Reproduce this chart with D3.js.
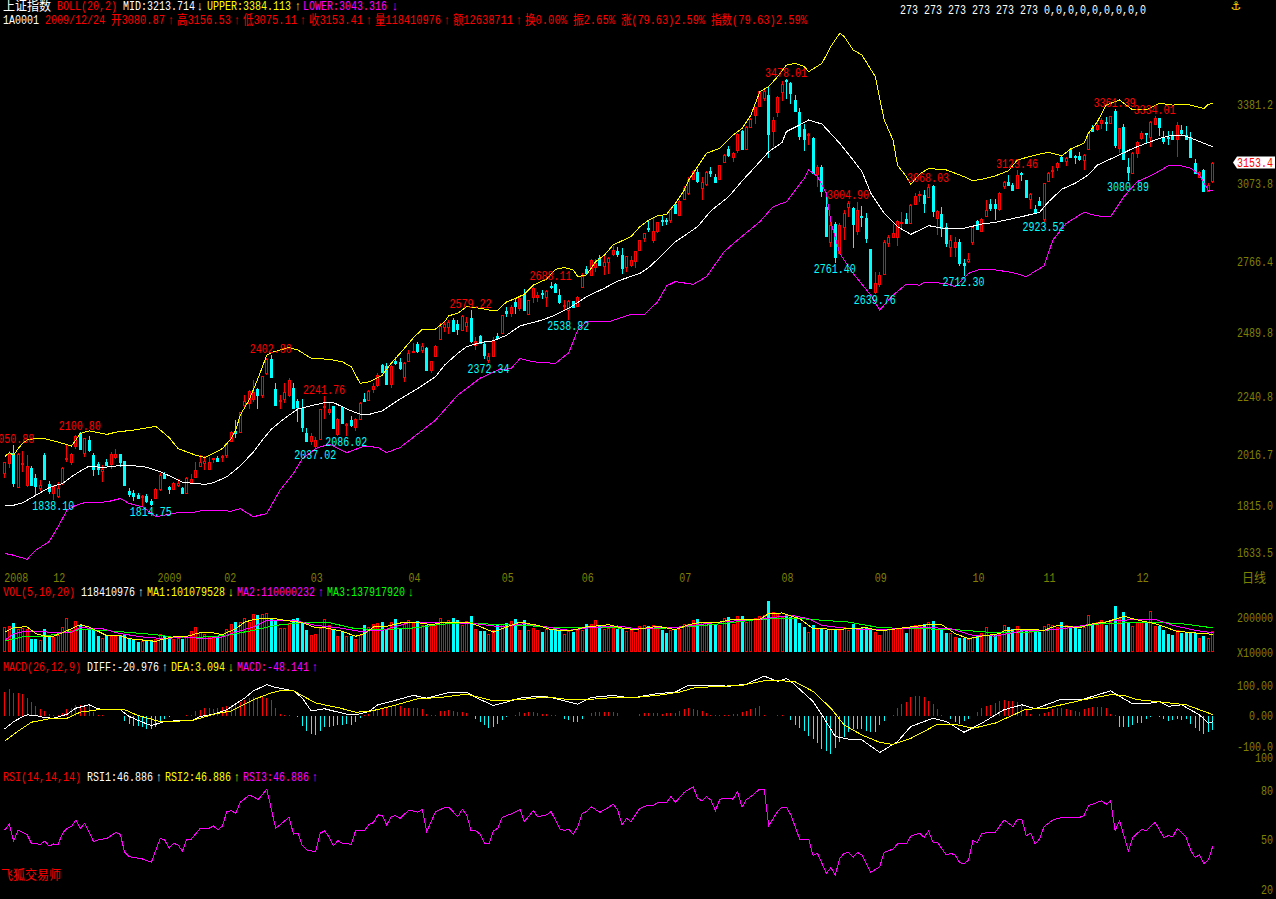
<!DOCTYPE html>
<html><head><meta charset="utf-8">
<script src="https://cdn.jsdelivr.net/npm/d3@7"></script>
<style>html,body{margin:0;background:#000;overflow:hidden}svg{display:block}</style>
</head><body><svg id="c" width="1276" height="899"></svg>
<script>
const opens=[1944,1983,2019,1889,1977,1894,1962,1923,1886,2012,1899,1866,1853,1902,1997,1986,2048,2097,2022,2071,2012,1977,1949,1984,1977,2006,2015,1988,1872,1866,1856,1850,1854,1833,1847,1881,1938,1889,1879,1895,1883,1863,1907,1928,1970,1980,1960,1996,2003,2007,2012,2067,2106,2104,2207,2214,2231,2269,2246,2331,2386,2269,2224,2230,2246,2275,2223,2197,2100,2068,2048,2075,2202,2179,2202,2093,2200,2131,2149,2123,2155,2230,2227,2269,2286,2365,2360,2288,2380,2377,
2315,2379,2417,2445,2422,2431,2344,2399,2464,2513,2513,2539,2523,2500,2517,2545,2441,2477,2445,2383,2400,2477,2487,2575,2565,2609,2587,2640,2561,2630,2630,2643,2630,2673,2679,2635,2595,2578,2613,2594,2669,2738,2715,2744,2779,2750,2765,2796,2808,2792,2744,2753,2770,2812,2859,2899,2851,2886,2929,2929,2929,2991,2949,
3011,3033,3088,3117,3055,3068,3121,3098,3088,3156,3207,3176,3202,3274,3207,3293,3339,3374,3404,3417,3277,3351,3427,3475,3465,3397,3350,3285,3263,3250,3108,3137,2981,2844,2913,2799,2903,2978,2977,2887,2945,2938,2815,2647,2679,2718,2841,2861,2864,2920,2933,2916,2990,3028,3027,3017,3063,2938,2952,2900,2825,2822,2845,2760,2770,2842,2925,
2887,2945,2991,2991,2972,3062,3076,3064,3055,3114,3084,3011,2972,3004,2932,3080,3119,3134,3175,3159,3205,3179,3179,3163,3205,3289,3283,3306,3311,3306,3352,3209,3290,3134,3114,3189,3247,3267,3251,3302,3325,3254,3254,3258,3245,3280,3260,3251,3150,3098,3124,3042,3081];
const closes=[1984,2015,1902,2015,1983,1970,1894,1892,1895,1919,1873,1893,1886,1964,2003,2016,2088,2036,2078,2031,1957,1958,1958,1973,2015,2016,1985,1895,1859,1853,1847,1854,1832,1823,1879,1934,1923,1880,1902,1902,1866,1925,1918,1954,1985,1990,1984,2002,1990,2010,2058,2104,2097,2179,2223,2262,2260,2246,2319,2386,2318,2207,2227,2260,2305,2198,2201,2123,2067,2088,2071,2193,2204,2192,2119,2155,2139,2133,2129,2152,2214,2223,2263,2282,2325,2337,2289,2360,2373,2351,
2371,2409,2419,2419,2438,2344,2378,2439,2516,2523,2532,2497,2503,2555,2532,2458,2458,2448,2402,2399,2458,2470,2557,2565,2591,2594,2623,2579,2616,2662,2635,2639,2652,2669,2650,2609,2597,2614,2588,2630,2712,2721,2774,2763,2753,2766,2782,2812,2796,2740,2787,2773,2808,2850,2877,2895,2887,2920,2926,2926,2971,2955,3004,
3055,3085,3121,3082,3076,3117,3111,3076,3142,3184,3181,3189,3264,3207,3292,3324,3368,3431,3433,3264,3319,3409,3459,3469,3426,3355,3257,3245,3266,3114,3136,3043,2868,2909,2786,2911,2958,2997,2913,2968,2942,2860,2662,2682,2714,2845,2861,2877,2926,2922,2916,2988,3024,3030,2997,3056,2965,2965,2897,2841,2851,2845,2760,2754,2778,2903,2893,
2933,2968,2975,2975,3036,3079,3066,3046,3105,3110,3020,3029,2955,2987,3072,3111,3124,3150,3159,3170,3175,3173,3167,3184,3270,3274,3300,3319,3309,3333,3222,3287,3166,3115,3192,3232,3270,3264,3312,3325,3290,3237,3247,3244,3300,3270,3245,3173,3111,3117,3042,3066,3153];
const highs=[1986,2029,2051,2019,2028,2012,1971,1937,1915,2019,1912,1894,1906,1966,2051,2019,2090,2101,2080,2085,2019,1986,1973,1999,2025,2036,2016,1989,1883,1876,1866,1856,1859,1843,1883,1941,1948,1893,1908,1921,1889,1928,1937,1986,2012,2009,2006,2003,2010,2014,2061,2106,2149,2181,2246,2266,2305,2275,2321,2390,2403,2292,2246,2292,2312,2292,2230,2233,2119,2100,2084,2194,2242,2214,2204,2158,2201,2136,2165,2158,2220,2253,2266,2292,2331,2367,2370,2363,2396,2390,
2377,2422,2448,2452,2448,2435,2379,2441,2526,2532,2539,2545,2539,2558,2552,2579,2474,2480,2455,2409,2474,2487,2558,2588,2597,2623,2630,2659,2617,2666,2650,2656,2656,2688,2682,2659,2617,2617,2614,2633,2724,2750,2776,2776,2792,2792,2783,2828,2825,2818,2789,2789,2809,2851,2880,2929,2936,2923,2949,2938,2975,2994,3007,
3062,3098,3124,3128,3098,3121,3137,3108,3143,3185,3218,3193,3267,3280,3296,3326,3371,3432,3436,3452,3332,3413,3471,3478,3466,3417,3365,3303,3270,3251,3143,3143,3017,2922,2922,2916,2968,3004,2981,3000,2985,2955,2816,2728,2728,2851,2871,2913,2929,2961,2958,2990,3033,3043,3046,3068,3065,2968,2981,2916,2871,2864,2854,2776,2799,2906,2929,
2936,3007,3010,3010,3037,3081,3105,3075,3123,3117,3085,3033,2987,3020,3075,3117,3140,3157,3179,3173,3208,3183,3196,3186,3271,3300,3313,3328,3329,3336,3361,3289,3303,3170,3196,3237,3276,3270,3315,3334,3328,3274,3274,3274,3312,3300,3297,3271,3167,3121,3128,3072,3157];
const lows=[1924,1963,1889,1885,1948,1889,1892,1856,1872,1918,1860,1838,1845,1895,1984,1973,2038,2035,2006,2025,1931,1936,1908,1970,1960,1997,1967,1894,1849,1834,1840,1811,1824,1815,1842,1872,1919,1860,1876,1889,1860,1860,1899,1925,1967,1954,1957,1983,1986,1986,2003,2064,2081,2101,2194,2194,2218,2192,2236,2324,2317,2204,2191,2214,2240,2193,2143,2104,2064,2051,2037,2074,2155,2169,2113,2086,2136,2087,2123,2107,2152,2219,2222,2253,2279,2331,2288,2275,2363,2344,
2298,2377,2415,2409,2409,2343,2331,2393,2461,2493,2484,2496,2480,2496,2493,2448,2422,2445,2389,2372,2396,2461,2484,2552,2552,2562,2575,2578,2558,2607,2611,2621,2588,2660,2648,2601,2578,2539,2585,2591,2668,2715,2713,2727,2750,2715,2718,2789,2786,2718,2725,2747,2740,2809,2843,2882,2838,2880,2906,2908,2916,2952,2947,
3007,3026,3085,3072,3007,3062,3098,3072,3085,3155,3176,3155,3192,3205,3205,3289,3303,3371,3391,3169,3212,3329,3394,3401,3381,3354,3241,3199,3221,3108,3059,3020,2867,2825,2761,2796,2851,2942,2821,2870,2903,2841,2661,2640,2669,2714,2825,2858,2828,2897,2913,2913,2988,3000,2958,3015,2939,2871,2864,2825,2783,2786,2751,2712,2760,2832,2890,
2886,2942,2965,2929,2965,3050,3063,3043,3052,3081,3019,2971,2952,2985,2923,3079,3092,3121,3157,3140,3173,3147,3160,3124,3202,3272,3274,3283,3277,3303,3209,3189,3163,3081,3111,3172,3241,3228,3215,3300,3257,3225,3221,3242,3176,3260,3244,3172,3108,3092,3040,3040,3075];
const volume=[143,147,166,133,137,131,76,72,67,133,86,86,99,143,192,128,175,152,133,124,124,90,82,99,91,91,95,101,80,72,59,63,70,61,76,105,91,76,76,80,76,91,118,143,114,105,91,91,90,95,133,158,170,171,196,171,215,210,215,223,194,175,139,137,166,190,194,171,128,95,105,139,190,152,133,91,114,91,91,76,95,152,143,158,168,171,133,171,190,139,162,185,171,177,152,152,152,152,196,171,185,194,181,156,177,204,133,118,118,101,124,152,162,166,177,187,128,185,128,139,128,112,133,128,139,128,105,118,114,124,128,162,162,181,152,133,139,139,133,133,118,124,114,
147,156,149,152,143,124,110,128,128,133,162,162,185,187,171,171,152,162,152,196,198,162,204,204,171,181,196,204,210,290,229,223,200,210,200,187,166,143,114,152,133,133,128,133,130,128,143,128,158,139,137,143,128,114,95,128,133,133,133,137,110,139,152,152,158,171,177,133,133,110,110,86,80,80,76,86,95,110,143,95,95,105,152,143,133,147,128,133,114,114,114,147,158,152,143,171,152,143,147,133,143,210,152,171,181,152,171,261,196,227,171,147,171,171,166,232,147,147,124,101,95,128,109,109,109,109,78,90,82,118];
const macdHist=[77,86,75,75,72,58,44,31,22,14,5,3,3,9,20,25,36,36,34,31,12,3,2,0,-2,-2,-1,-18,-27,-33,-35,-38,-43,-43,-38,-24,-13,-6,-2,-1,0,1,2,14,18,24,24,22,24,28,32,34,38,44,50,56,60,60,62,56,50,24,5,2,1,0,-5,-35,-50,-62,-65,-50,-38,-38,-35,-30,-30,-28,-30,-22,-8,2,5,14,22,24,28,32,34,30,25,24,24,24,22,4,2,3,14,16,18,16,12,12,8,-2,-12,-22,-32,-40,-38,-28,-15,-5,-1,3,10,8,10,10,7,6,6,3,2,-3,-12,-15,-22,-20,-10,0,8,10,10,12,12,10,8,0,0,-3,-2,
6,7,7,9,9,6,8,7,8,14,22,24,22,18,14,8,2,2,2,3,2,6,6,10,14,20,24,30,3,-1,0,1,1,0,-15,-30,-42,-52,-68,-78,-90,-110,-118,-125,-105,-88,-72,-55,-45,-45,-45,-52,-55,-55,-30,-18,0,2,25,38,45,60,63,63,60,48,38,20,3,-1,-12,-22,-28,-18,-12,0,10,25,30,33,40,48,52,48,48,45,30,20,6,0,5,8,12,22,26,26,22,18,14,12,20,26,28,28,28,26,6,2,-38,-38,-38,-32,-24,-24,-12,-4,-2,-4,-10,-18,-14,-13,-15,-12,-28,-42,-52,-60,-54,-48];

const upperBars=[1,2,3,4,5,6,8,10,12,14,16,17,18,20,22,24,26,30,32,35,36,38,40,42,44,46,48,50,52,53,54,56,58,60,61,65,67,70,74,77,79,81,83,86,88,90,93,95,98,100,101,103,105,107,110,112,114,116,118,120,123,125,127,129,130,132,134,136,138,142,144,146,148,150,152,154,155,157,159,162,165,167,169,171,173,175,177,179,181,182,185,187,189,190,192,194,197,199,201,202,204,205,207,209,213,217,219,221,224,227,229,233,236,239,241,244,245,247,249,252,255,258,261,264,267,271,272,273];
const upperVals=[2006,2022,2012,2038,2058,2071,2077,2076,2068,2058,2048,2071,2097,2107,2100,2093,2102,2110,2116,2124,2110,2081,2038,2025,2012,2003,2019,2038,2077,2110,2168,2227,2311,2402,2412,2432,2422,2390,2386,2376,2357,2292,2298,2324,2370,2409,2470,2503,2504,2532,2556,2565,2591,2588,2578,2578,2610,2623,2640,2675,2699,2737,2744,2734,2708,2715,2766,2792,2832,2864,2903,2929,2945,2951,2994,3046,3085,3137,3189,3209,3260,3286,3338,3429,3449,3488,3533,3540,3527,3507,3540,3605,3657,3644,3592,3572,3488,3319,3241,3143,3098,3068,3108,3130,3124,3098,3082,3088,3101,3121,3163,3182,3193,3179,3206,3228,3267,3312,3377,3397,3358,3358,3384,3377,3381,3364,3380,3384];
const midBars=[1,3,5,8,11,14,16,18,20,23,26,30,33,36,39,41,44,46,48,51,54,57,59,61,64,67,70,73,75,79,81,83,86,90,94,98,100,103,105,108,111,114,117,122,125,128,132,136,139,144,146,149,152,157,160,164,167,170,173,176,177,180,182,185,189,192,194,196,199,202,205,207,209,213,217,221,224,230,234,236,239,242,245,247,252,255,258,261,264,267,270,273];
const midVals=[1817,1817,1826,1856,1886,1902,1928,1950,1970,1964,1970,1971,1965,1948,1924,1906,1902,1898,1905,1928,1970,2025,2071,2113,2156,2192,2205,2217,2217,2185,2172,2171,2185,2231,2272,2318,2363,2409,2435,2451,2458,2480,2516,2539,2559,2585,2630,2663,2691,2721,2744,2792,2844,2903,2965,3020,3081,3137,3195,3231,3274,3300,3319,3303,3228,3163,3118,3033,2955,2903,2873,2890,2907,2894,2897,2913,2920,2942,2959,3000,3049,3072,3105,3143,3183,3208,3228,3247,3260,3256,3235,3214];
const lowerBars=[1,3,6,8,11,13,15,17,19,24,27,29,32,35,38,40,43,46,52,54,56,57,60,63,66,68,71,74,78,82,85,87,90,98,103,108,112,115,117,120,125,128,130,132,137,142,145,148,150,152,156,159,163,166,171,174,177,181,182,184,186,187,189,192,196,198,201,204,207,208,213,215,218,220,223,228,231,235,237,240,244,247,250,253,256,259,263,266,268,270,272,273];
const lowerVals=[1629,1622,1606,1642,1675,1733,1798,1817,1827,1830,1843,1824,1811,1772,1782,1788,1788,1798,1794,1804,1782,1772,1785,1876,1941,1999,2038,2055,2022,2048,2042,2022,2042,2149,2247,2312,2344,2350,2389,2376,2370,2412,2500,2532,2532,2561,2561,2610,2672,2689,2678,2708,2806,2851,2922,2981,3000,3091,3124,3098,3033,2922,2799,2721,2636,2578,2636,2679,2675,2686,2682,2669,2721,2734,2737,2724,2708,2750,2851,2916,2959,2945,2942,3020,3079,3101,3140,3140,3131,3105,3043,3043];

const ma1Bars=[1,3,5,6,8,10,12,14,16,18,20,22,24,27,29,35,37,39,42,45,48,50,53,55,57,60,62,64,68,71,73,77,80,82,84,87,91,94,97,100,105,107,111,114,117,121,124,128,132,137,140,143,148,152,155,158,161,165,171,173,176,180,183,189,195,198,203,209,212,215,218,221,225,226,230,235,238,243,246,249,253,257,260,265,269,273];
const ma1Vals=[114,139,143,143,105,91,91,110,133,156,143,118,93,93,76,61,76,86,90,110,109,99,133,171,185,194,190,181,168,139,139,118,90,105,143,147,171,168,156,171,171,156,114,143,171,152,128,120,143,156,137,128,147,128,156,171,166,187,187,219,223,190,133,130,139,120,137,156,156,105,76,91,105,120,131,124,152,139,162,171,204,177,162,118,109,101];
const ma2Bars=[1,3,6,9,12,16,18,23,27,32,37,41,46,50,53,57,60,66,71,76,81,86,92,101,107,113,118,123,128,133,139,143,147,153,161,167,172,178,182,185,191,196,203,207,214,219,224,230,235,239,244,251,260,264,269,273];
const ma2Vals=[67,105,120,120,109,114,139,133,105,86,76,86,76,86,114,143,181,181,152,139,118,124,168,168,162,143,162,143,124,139,149,133,137,143,168,181,190,210,190,152,133,128,133,143,133,95,91,120,124,133,152,181,187,152,124,110];
const ma3Bars=[1,5,10,18,23,29,35,40,46,51,57,62,68,74,80,87,94,99,105,112,118,125,132,138,143,152,161,171,179,183,191,198,207,215,224,230,239,248,259,266,273];
const ma3Vals=[63,86,90,128,124,112,99,80,86,95,124,152,168,168,133,128,139,158,168,156,152,139,137,139,131,139,158,187,194,185,171,139,133,128,110,110,133,162,171,162,138];

const diffBars=[1,3,5,6,8,10,12,15,17,20,22,24,27,29,32,34,37,39,43,45,48,51,55,57,60,62,66,68,70,73,78,80,83,85,88,93,96,101,105,107,111,114,117,121,124,127,130,133,138,141,143,147,152,155,160,164,168,172,175,177,178,183,185,188,192,194,198,202,205,210,213,217,221,226,230,233,239,244,250,252,255,258,261,263,266,270,272,273];
const diffVals=[-44,-20,-4,2,0,-7,-9,4,24,35,22,19,19,-3,-22,-33,-20,-18,-18,-3,4,19,57,81,101,92,81,57,15,22,4,2,13,35,46,66,57,75,77,59,33,44,57,63,59,48,37,59,66,59,59,70,77,99,99,96,103,129,112,121,112,46,2,-69,-80,-80,-121,-86,-36,-9,-20,-55,-25,19,35,22,54,54,81,63,38,38,46,30,35,2,-25,-21];
const deaBars=[1,4,7,11,15,18,22,28,31,36,43,48,52,57,61,63,66,71,76,80,83,88,94,99,105,111,117,123,128,132,138,143,149,153,156,161,167,172,176,179,183,187,190,194,198,201,205,211,215,219,224,231,235,244,250,253,256,262,267,273];
const deaVals=[-84,-51,-22,-11,-9,11,19,19,0,-20,-17,4,15,52,74,81,81,41,26,11,13,30,55,59,70,48,52,61,52,52,59,59,68,77,90,95,99,114,114,110,79,24,-31,-64,-88,-95,-75,-29,-29,-42,-25,21,22,52,68,66,52,43,35,3];

const rsiBars=[1,2,3,4,6,7,9,10,11,12,13,14,15,16,17,18,19,21,22,24,26,27,28,29,32,34,36,37,38,39,40,41,42,43,45,47,48,49,50,51,52,53,54,56,57,58,60,62,65,66,67,68,69,71,72,73,74,75,76,77,79,80,82,83,84,85,86,87,88,89,90,92,94,95,96,98,100,101,103,104,105,106,107,108,109,110,111,112,113,115,117,118,120,121,123,124,126,127,128,129,130,131,132,133,135,136,138,139,140,141,142,144,146,147,148,150,151,152,154,156,157,158,159,160,161,162,163,165,166,167,168,169,171,172,173,175,176,177,178,180,182,183,184,186,187,188,189,190,191,192,193,194,196,198,199,201,202,204,205,207,208,209,210,211,213,214,215,216,217,218,219,220,221,224,226,228,229,230,231,232,233,234,235,237,239,243,244,245,248,249,250,251,252,254,255,257,258,260,262,263,264,265,267,268,269,270,271,272,273];
const rsiVals=[55.8,59.2,49.1,55.8,53.1,47.7,47.1,49.1,46,47.3,47.1,53.7,56.8,57.8,61.8,56.8,59.8,48.7,49.7,50.7,54.3,53.1,42.2,39.6,38.2,36.2,50.7,49.7,44.7,47.7,46.7,43,50.3,50.3,56.8,56.8,58.2,55.8,58.2,66.9,67.5,65.9,72.5,76.8,76,74,80.4,56.8,63.4,53.3,53.8,46.3,43.6,42.6,53.8,55.2,51.7,46.3,49.3,47.7,47.1,55.4,55.4,59.2,60.2,64.9,64.5,58.8,63.8,64.5,62.8,67.9,66.5,68.3,54.8,66.9,69.3,69.5,63.8,68.3,64.9,55.2,55.4,53.3,47.7,47.3,55.2,56.8,63.4,65.5,68.3,60.8,67.5,63.8,64.9,66.9,56.4,55.4,56.2,53.1,57.8,65.9,66.9,69.9,66.5,67.9,71.3,67.9,58.8,62.8,60.8,68.9,70.9,70.5,72.5,72.5,76,72.5,78.6,82,75,73.3,76,73.9,67.5,74.3,75,74.5,79,69.5,74.3,76,80.6,80.6,58.4,66.9,69.5,69.5,64.9,50.1,50.3,40.2,41.6,29.5,32.9,28.5,38.6,41.6,42.2,39.2,42.2,40.6,30.1,33.5,42.2,44.2,47.3,47.3,52.1,53.8,51.3,55.2,48.3,48.3,40.6,41.6,40.6,36,35.2,37.6,49.3,48.1,53.8,54.4,61.8,57.8,62.2,62.2,52.3,53.8,47.3,50.3,57.8,61.8,63.4,63.4,64.5,70.5,73.5,71.3,73.5,55.4,61.4,43,51.3,56.2,55.4,60.4,51.3,52.3,51.7,56.8,51.3,43.6,39.2,40.6,35.4,37.6,46];

const priceTicks=[3381.2,3073.8,2766.4,2489.8,2240.8,2016.7,1815.0,1633.5];
const monthLabels=["2008","12","2009","02","03","04","05","06","07","08","09","10","11","12"];
const monthBars=[1,12,35.5,50.5,70,92,113,131,153,176,197,219,235,256];
const peakBars=[3,18,61,73,106,124,177,191,209,229,251,260];
const peakVals=[2050.88,2100.80,2402.80,2241.76,2579.22,2688.11,3478.01,3004.90,3068.03,3123.46,3361.39,3334.01];
const troughBars=[12,34,71,78,110,128,188,197,217,235,254];
const troughVals=[1838.10,1814.75,2037.02,2086.02,2372.34,2538.82,2761.40,2639.76,2712.30,2923.52,3080.89];

const RED="#ff0000",CYAN="#00ffff",YEL="#ffff00",MAG="#ff00ff",GRN="#00ff00",WHI="#ffffff",OLV="#808000";
const svg=d3.select("#c");
svg.append("rect").attr("width",1276).attr("height",899).attr("fill","#000");
const n=closes.length;
const x=d3.scaleLinear().domain([1,273]).range([4.3,1212.3]);
const yP=d3.scaleLinear().domain([1633.5,3381.2]).range([552.3,104]);
const yV=d3.scaleLinear().domain([0,200]).range([652,617]);
const yM=d3.scaleLinear().domain([-100,100]).range([746,685]);
const yR=d3.scaleLinear().domain([20,80]).range([889,790]);
const bars=d3.range(1,n+1);
const px=v=>Math.round(v);
const up=i=>closes[i]>=opens[i];

function put(g,xp,yc,str,col){
  let w=0;for(const ch of str)w+=ch.charCodeAt(0)>255&&!"↑↓".includes(ch)?12:6;
  return g.append("text").attr("x",xp).attr("y",yc+4).attr("fill",col)
    .attr("textLength",w).attr("lengthAdjust","spacingAndGlyphs")
    .style("font","13px 'Liberation Mono','Noto Sans CJK SC',monospace").text(str);
}
function series(g,bx,vals,scale,col){
  g.append("path").datum(d3.zip(bx,vals)).attr("fill","none").attr("stroke",col).attr("stroke-width",1)
   .attr("shape-rendering","crispEdges")
   .attr("d",d3.line().x(d=>x(d[0])+.5).y(d=>scale(d[1])));
}
// candles
const cg=svg.append("g").attr("shape-rendering","crispEdges");
const cs=cg.selectAll("g").data(bars).join("g");
cs.append("line").attr("x1",d=>px(x(d))+.5).attr("x2",d=>px(x(d))+.5)
  .attr("y1",d=>px(yP(highs[d-1]))).attr("y2",d=>px(yP(lows[d-1])))
  .attr("stroke",d=>up(d-1)?RED:CYAN);
cs.append("rect").attr("x",d=>px(x(d))-.5).attr("width",2)
  .attr("y",d=>px(yP(Math.max(opens[d-1],closes[d-1])))+.5)
  .attr("height",d=>Math.max(1,px(yP(Math.min(opens[d-1],closes[d-1])))-px(yP(Math.max(opens[d-1],closes[d-1])))))
  .attr("fill",d=>up(d-1)?"#000":CYAN).attr("stroke",d=>up(d-1)?RED:CYAN);
const lg=svg.append("g");
series(lg,lowerBars,lowerVals,yP,MAG);
series(lg,midBars,midVals,yP,WHI);
series(lg,upperBars,upperVals,yP,YEL);
// peak and trough labels
const ag=svg.append("g");
peakBars.forEach((b,i)=>put(ag,x(b)-21,yP(peakVals[i])-6,peakVals[i].toFixed(2),RED));
troughBars.forEach((b,i)=>put(ag,x(b)-21,yP(troughVals[i])+6,troughVals[i].toFixed(2),CYAN));
// volume
const vg=svg.append("g").attr("shape-rendering","crispEdges");
vg.selectAll("rect").data(bars).join("rect")
  .attr("x",d=>px(x(d))-.5).attr("width",2)
  .attr("y",d=>px(yV(volume[d-1]))+.5).attr("height",d=>px(yV(0))-px(yV(volume[d-1]))-1)
  .attr("fill",d=>up(d-1)?"#000":CYAN).attr("stroke",d=>up(d-1)?RED:CYAN);
series(svg,ma3Bars,ma3Vals,yV,GRN);
series(svg,ma2Bars,ma2Vals,yV,MAG);
series(svg,ma1Bars,ma1Vals,yV,YEL);
// macd
svg.append("g").attr("shape-rendering","crispEdges").selectAll("line").data(bars).join("line")
  .attr("x1",d=>px(x(d))+.5).attr("x2",d=>px(x(d))+.5)
  .attr("y1",yM(0)).attr("y2",d=>yM(macdHist[d-1]))
  .attr("stroke",d=>macdHist[d-1]>=0?RED:CYAN);
series(svg,diffBars,diffVals,yM,WHI);
series(svg,deaBars,deaVals,yM,YEL);
// rsi
series(svg,rsiBars,rsiVals,yR,MAG);

// axes
function axis(scale,ticks,fmt){
  const g=svg.append("g").attr("transform","translate(1273,0)")
    .call(d3.axisLeft(scale).tickValues(ticks).tickFormat(fmt).tickSize(0).tickPadding(0));
  g.select(".domain").remove();
  g.selectAll("text").attr("fill",OLV).style("font","13px 'Liberation Mono',monospace")
    .each(function(){const s=this.textContent;d3.select(this).attr("textLength",s.length*6).attr("lengthAdjust","spacingAndGlyphs");});
  return g;
}
axis(yP,priceTicks,d=>d.toFixed(1));
axis(yV,[200,0],d=>d?"200000":"X10000");
axis(yM,[100,0,-100],d=>d===100?"100.00":d===0?"0.00":"-100.0");
axis(yR,[80,50,20],d=>String(d));
axis(d3.scaleLinear().domain([0,1]).range([757,757]),[1],()=>"100");
// month labels
const mg=svg.append("g");
monthLabels.forEach((s,i)=>put(mg,x(monthBars[i]),578,s,OLV));
put(svg,1242,578,"日线",OLV);
// last price tag
const lastY=yP(closes[n-1]);
svg.append("path").attr("fill","#fff").attr("d",d3.line()([[1233,lastY],[1237,lastY-6],[1275,lastY-6],[1275,lastY+6],[1237,lastY+6]])+"Z");
put(svg,1237,lastY,closes[n-1].toFixed(1)==="3153.0"?"3153.4":closes[n-1].toFixed(1),RED);
// legends
const row=(y,items)=>items.forEach(([xp,s,c])=>put(svg,xp,y,s,c));
row(6,[[3,"上证指数",WHI],[57,"BOLL(20,2)",RED],[123,"MID:3213.714",WHI],[197,"↓",WHI],[207,"UPPER:3384.113",YEL],[295,"↑",YEL],[303,"LOWER:3043.316",MAG],[392,"↓",MAG]]);
row(20,[[3,"1A0001",WHI],[45,"2009/12/24",RED],[111,"开3080.87",RED],[168,"↑",RED],[177,"高3156.53",RED],[234,"↑",RED],[243,"低3075.11",RED],[300,"↑",RED],[309,"收3153.41",RED],[366,"↑",RED],[375,"量118410976",RED],[444,"↑",RED],[453,"额12638711",RED],[516,"↑",RED],[525,"换0.00%",RED],[573,"振2.65%",RED],[621,"涨(79.63)2.59%",RED],[711,"指数(79.63)2.59%",RED]]);
row(592,[[3,"VOL(5,10,20)",RED],[81,"118410976",WHI],[138,"↑",WHI],[147,"MA1:101079528",YEL],[228,"↓",YEL],[237,"MA2:110000232",MAG],[318,"↑",MAG],[327,"MA3:137917920",GRN],[408,"↓",GRN]]);
row(667,[[3,"MACD(26,12,9)",RED],[87,"DIFF:-20.976",WHI],[162,"↑",WHI],[171,"DEA:3.094",YEL],[228,"↓",YEL],[237,"MACD:-48.141",MAG],[312,"↑",MAG]]);
row(777,[[3,"RSI(14,14,14)",RED],[87,"RSI1:46.886",WHI],[156,"↑",WHI],[165,"RSI2:46.886",YEL],[234,"↑",YEL],[243,"RSI3:46.886",MAG],[312,"↑",MAG]]);
put(svg,1,875,"飞狐交易师",RED);
svg.append("text").attr("x",1236).attr("y",10).attr("text-anchor","middle").attr("fill","#ffd400").style("font","bold 12px 'DejaVu Sans'").text("⚓");
// temporary length check
put(svg,900,10,[opens,closes,highs,lows,volume,macdHist].map(a=>a.length).join(" ")+" "+[upperBars.length-upperVals.length,midBars.length-midVals.length,lowerBars.length-lowerVals.length,ma1Bars.length-ma1Vals.length,ma2Bars.length-ma2Vals.length,ma3Bars.length-ma3Vals.length,diffBars.length-diffVals.length,deaBars.length-deaVals.length,rsiBars.length-rsiVals.length].join(","),WHI);
</script></body></html>
